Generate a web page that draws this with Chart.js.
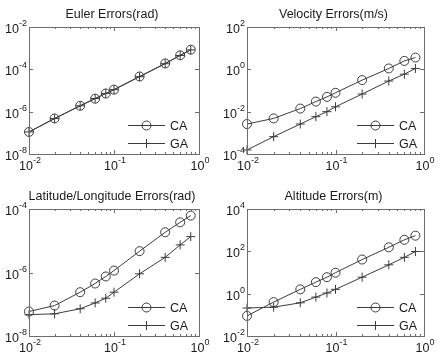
<!DOCTYPE html>
<html><head><meta charset="utf-8">
<script src="https://cdn.jsdelivr.net/npm/chart.js@4/dist/chart.umd.min.js"></script>
<style>
html,body{margin:0;padding:0;background:#fff;}
#wrap{position:relative;width:440px;height:364px;background:#fff;}
canvas{position:absolute;}
</style></head>
<body>
<div id="wrap">
<canvas id="c0" width="220" height="182" style="left:0;top:0"></canvas>
<canvas id="c1" width="220" height="182" style="left:220px;top:0"></canvas>
<canvas id="c2" width="220" height="182" style="left:0;top:182px"></canvas>
<canvas id="c3" width="220" height="182" style="left:220px;top:182px"></canvas>
</div>
<script>
// ---- data ----
const stepSizes = [0.01, 0.02, 0.04, 0.06, 0.08, 0.1, 0.2, 0.4, 0.6, 0.8];
const seriesNames = ['CA', 'GA'];
const titles = ['Euler Errors(rad)', 'Velocity Errors(m/s)', 'Latitude/Longitude Errors(rad)', 'Altitude Errors(m)'];

const eulerCA = [1.1e-7, 4.8e-7, 1.9e-6, 4.1e-6, 7.2e-6, 1.1e-5, 4.6e-5, 1.9e-4, 4.6e-4, 8.5e-4];
const eulerGA = [1.1e-7, 4.7e-7, 1.9e-6, 4.2e-6, 7.3e-6, 1.1e-5, 4.5e-5, 1.85e-4, 4.5e-4, 8.3e-4];
const velCA = [2.6e-3, 4.8e-3, 1.4e-2, 3.0e-2, 5.0e-2, 7.8e-2, 0.31, 1.1, 2.5, 3.6];
const velGA = [1.55e-4, 6.6e-4, 2.6e-3, 5.8e-3, 1.0e-2, 1.7e-2, 6.8e-2, 0.28, 0.59, 1.1];
const latCA = [5.9e-8, 9.1e-8, 2.4e-7, 4.5e-7, 7.5e-7, 1.15e-6, 4.7e-6, 1.85e-5, 3.8e-5, 6.2e-5];
const latGA = [4.7e-8, 5.0e-8, 7.2e-8, 1.1e-7, 1.55e-7, 2.4e-7, 9.1e-7, 3.0e-6, 7.4e-6, 1.35e-5];
const altCA = [0.089, 0.40, 1.6, 3.5, 6.0, 9.8, 41, 155, 350, 550];
const altGA = [0.21, 0.23, 0.37, 0.69, 1.07, 1.6, 6.0, 23, 52, 98];

// tick labels (exponents of 10)
const xTickExps = [-2, -1, 0];
const eulerYExps = [-8, -6, -4, -2];
const velYExps = [-4, -2, 0, 2];
const latYExps = [-8, -6, -4];
const altYExps = [-2, 0, 2, 4];

// ---- drawing helpers ----
const FONT = '"Liberation Sans", Arial, sans-serif';
const TXT = '#1a1a1a';
const AXC = '#6e6e6e';
const LINEC = '#3c3c3c';

function measure(ctx, s, size) { ctx.font = size + 'px ' + FONT; return ctx.measureText(s).width; }
function drawPow(ctx, exp, x, yBase, mode) {
  const base = '10', ex = String(exp);
  const wb = measure(ctx, base, 12.5), we = measure(ctx, ex, 9);
  let sx = mode === 'right' ? x - wb - we : x - (wb + we) / 2;
  ctx.fillStyle = TXT; ctx.textAlign = 'left'; ctx.textBaseline = 'alphabetic';
  ctx.font = '12.5px ' + FONT; ctx.fillText(base, sx, yBase);
  ctx.font = '9px ' + FONT; ctx.fillText(ex, sx + wb, yBase - 7);
}

const framePlugin = {
  id: 'frame',
  afterDraw(chart, args, opts) {
    const ctx = chart.ctx, a = chart.chartArea;
    const xs = chart.scales.x, ys = chart.scales.y;
    ctx.save();
    // box
    ctx.strokeStyle = AXC; ctx.lineWidth = 1;
    ctx.strokeRect(Math.round(a.left) + 0.5, Math.round(a.top) + 0.5, Math.round(a.right - a.left), Math.round(a.bottom - a.top));
    // x ticks (major + minor), both bottom and top
    ctx.beginPath();
    for (let e = -2; e <= 0; e++) {
      for (let k = 1; k <= 9; k++) {
        const v = k * Math.pow(10, e);
        if (v > 1.0000001) break;
        const px = Math.round(xs.getPixelForValue(v)) + 0.5;
        const len = k === 1 ? 4 : 2;
        ctx.moveTo(px, a.bottom); ctx.lineTo(px, a.bottom - len);
        ctx.moveTo(px, a.top); ctx.lineTo(px, a.top + len);
      }
    }
    // y ticks at labelled decades, both sides
    opts.yExps.forEach(e => {
      const py = Math.round(ys.getPixelForValue(Math.pow(10, e))) + 0.5;
      ctx.moveTo(a.left, py); ctx.lineTo(a.left + 4, py);
      ctx.moveTo(a.right, py); ctx.lineTo(a.right - 4, py);
    });
    ctx.stroke();
    // tick labels
    xTickExps.forEach(e => drawPow(ctx, e, xs.getPixelForValue(Math.pow(10, e)) + 1, a.bottom + 16, 'center'));
    opts.yExps.forEach(e => drawPow(ctx, e, a.left - 2, ys.getPixelForValue(Math.pow(10, e)) + 6, 'right'));
    // title
    ctx.fillStyle = TXT; ctx.font = '12.5px ' + FONT; ctx.textAlign = 'center'; ctx.textBaseline = 'alphabetic';
    ctx.fillText(opts.title, (a.left + a.right) / 2 - 2, a.top - 9);
    // legend
    const lx0 = a.right - opts.legendOff, lx1 = lx0 + 37, mx = (lx0 + lx1) / 2;
    const rows = [a.bottom - 29, a.bottom - 11];
    chart.data.datasets.forEach((ds, i) => {
      const y = rows[i] + 0.5;
      ctx.strokeStyle = LINEC; ctx.lineWidth = 1;
      ctx.beginPath(); ctx.moveTo(lx0, y); ctx.lineTo(lx1, y); ctx.stroke();
      ctx.beginPath();
      if (ds.pointStyle === 'circle') { ctx.arc(mx, y, 4.5, 0, Math.PI * 2); }
      else { ctx.moveTo(mx, y - 4.5); ctx.lineTo(mx, y + 4.5); ctx.moveTo(mx - 4.5, y); ctx.lineTo(mx + 4.5, y); }
      ctx.stroke();
      ctx.fillStyle = TXT; ctx.font = '12.5px ' + FONT; ctx.textAlign = 'left'; ctx.textBaseline = 'middle';
      ctx.fillText(ds.label, lx1 + 5, y + 1);
    });
    ctx.restore();
  }
};

function makeChart(id, title, ca, ga, yExps, pad, legendOff) {
  const mk = (vals) => stepSizes.map((x, i) => ({ x: x, y: vals[i] }));
  return new Chart(document.getElementById(id), {
    type: 'line',
    data: {
      datasets: [
        { label: seriesNames[0], data: mk(ca), borderColor: LINEC, borderWidth: 1, pointStyle: 'circle', pointRadius: 4.5,
          pointBorderColor: LINEC, pointBackgroundColor: 'rgba(0,0,0,0)', pointBorderWidth: 1, tension: 0, clip: false },
        { label: seriesNames[1], data: mk(ga), borderColor: LINEC, borderWidth: 1, pointStyle: 'cross', pointRadius: 4.5,
          pointBorderColor: LINEC, pointBackgroundColor: 'rgba(0,0,0,0)', pointBorderWidth: 1, tension: 0, clip: false }
      ]
    },
    options: {
      responsive: false, animation: false, devicePixelRatio: 1,
      layout: { padding: pad },
      scales: {
        x: { type: 'logarithmic', min: 0.01, max: 1, display: false },
        y: { type: 'logarithmic', min: Math.pow(10, yExps[0]), max: Math.pow(10, yExps[yExps.length - 1]), display: false }
      },
      plugins: { legend: { display: false }, tooltip: { enabled: false }, title: { display: false },
        frame: { title: title, yExps: yExps, legendOff: legendOff } }
    },
    plugins: [framePlugin]
  });
}

makeChart('c0', titles[0], eulerCA, eulerGA, eulerYExps, { left: 29, top: 27, right: 21, bottom: 28 }, 71);
makeChart('c1', titles[1], velCA, velGA, velYExps, { left: 27, top: 27, right: 16, bottom: 28 }, 67);
makeChart('c2', titles[2], latCA, latGA, latYExps, { left: 29, top: 27, right: 21, bottom: 28 }, 71);
makeChart('c3', titles[3], altCA, altGA, altYExps, { left: 27, top: 27, right: 16, bottom: 28 }, 67);
</script>
</body></html>
